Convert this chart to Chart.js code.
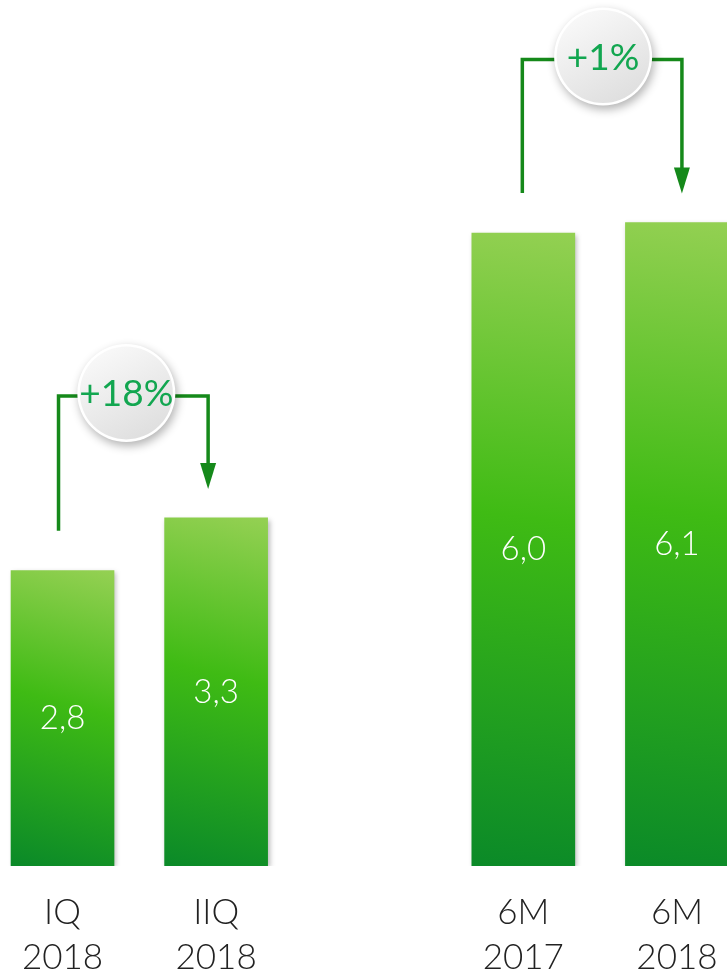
<!DOCTYPE html>
<html>
<head>
<meta charset="utf-8">
<script src="https://cdn.jsdelivr.net/npm/chart.js@4"></script>
<style>
  body { margin: 0; background: #fff; }
</style>
</head>
<body>
<canvas id="myChart" width="727" height="976"></canvas>
<script>
const categories = [["IQ", "2018"], ["IIQ", "2018"], ["6M", "2017"], ["6M", "2018"]];
const xPositions = [0, 1, 3, 4];
const values = [2.8, 3.3, 6.0, 6.1];
const valueLabels = ["2,8", "3,3", "6,0", "6,1"];
const changeLabels = ["+18%", "+1%"];
const changePairs = [[0, 1], [2, 3]];

const ctx = document.querySelector("#myChart");

function barGradient(c) {
    const chart = c.chart;
    if (!chart.chartArea) return "#3fbb14";
    const i = c.dataIndex;
    const cx = chart.scales.x.getPixelForValue(xPositions[i]);
    const top = chart.scales.y.getPixelForValue(values[i]);
    const bottom = chart.scales.y.getPixelForValue(0);
    const g = chart.ctx.createLinearGradient(cx + 40, top, cx - 40, bottom);
    g.addColorStop(0, "#93d052");
    g.addColorStop(0.45, "#3fbb14");
    g.addColorStop(1, "#0b8a28");
    return g;
}

// soft shadow on bars, values inside bars
const barExtras = {
    id: "barExtras",
    beforeDatasetsDraw(chart) {
        const c = chart.ctx;
        c.save();
        c.shadowColor = "rgba(0,0,0,0.28)";
        c.shadowBlur = 5;
        c.shadowOffsetX = 2;
        c.shadowOffsetY = 2;
    },
    afterDatasetsDraw(chart) {
        const c = chart.ctx;
        c.restore();
        const meta = chart.getDatasetMeta(0);
        c.save();
        c.fillStyle = "#ffffff";
        c.font = "300 33px Lato";
        c.textAlign = "center";
        c.textBaseline = "middle";
        meta.data.forEach((bar, i) => {
            c.fillText(valueLabels[i], bar.x, (bar.y + bar.base) / 2);
        });
        c.restore();
    }
};

// bracket arrows with the change badges
const changeBadges = {
    id: "changeBadges",
    afterDraw(chart, args, opts) {
        const c = chart.ctx;
        const meta = chart.getDatasetMeta(0);
        changePairs.forEach((pair, k) => {
            const a = meta.data[pair[0]];
            const b = meta.data[pair[1]];
            const level = Math.min(a.y, b.y) - opts.rise[k];
            const leftX = a.x + opts.leftDx[k];
            const rightX = b.x + opts.rightDx[k];
            const tipY = b.y - 29;

            c.save();
            c.strokeStyle = "#15891a";
            c.fillStyle = "#15891a";
            c.lineWidth = 3.5;
            c.lineJoin = "miter";
            c.beginPath();
            c.moveTo(leftX, a.y - 40);
            c.lineTo(leftX, level);
            c.lineTo(rightX, level);
            c.lineTo(rightX, tipY - 24);
            c.stroke();
            c.beginPath();
            c.moveTo(rightX - 8, tipY - 26);
            c.lineTo(rightX + 8, tipY - 26);
            c.lineTo(rightX, tipY);
            c.closePath();
            c.fill();

            const cx = (leftX + rightX) / 2 + opts.circleDx[k];
            const cy = level - 3;
            c.shadowColor = "rgba(0,0,0,0.3)";
            c.shadowBlur = 10;
            c.shadowOffsetX = 2;
            c.shadowOffsetY = 4;
            c.fillStyle = "#ffffff";
            c.beginPath();
            c.arc(cx, cy, 49, 0, Math.PI * 2);
            c.fill();
            c.shadowColor = "transparent";
            const g = c.createLinearGradient(cx - 25, cy - 45, cx + 25, cy + 45);
            g.addColorStop(0, "#f9f9f9");
            g.addColorStop(1, "#dedede");
            c.fillStyle = g;
            c.beginPath();
            c.arc(cx, cy, 46.5, 0, Math.PI * 2);
            c.fill();

            c.fillStyle = "#12a650";
            c.font = "37px Lato";
            c.textAlign = "center";
            c.textBaseline = "middle";
            c.fillText(changeLabels[k], cx, cy + 1);
            c.restore();
        });
    }
};

new Chart(ctx, {
    type: "bar",
    data: {
        datasets: [{
            data: xPositions.map((x, i) => ({ x: x, y: values[i] })),
            backgroundColor: barGradient,
            borderWidth: 0,
            barThickness: 103
        }]
    },
    options: {
        responsive: false,
        animation: false,
        layout: { padding: 0 },
        plugins: {
            legend: { display: false },
            tooltip: { enabled: false },
            changeBadges: {
                rise: [122, 163],
                leftDx: [-4, -1],
                rightDx: [-8, 5],
                circleDx: [-7, 1]
            }
        },
        scales: {
            x: {
                type: "linear",
                min: -0.407,
                max: 4.326,
                offset: false,
                grid: { display: false, drawTicks: false, offset: false },
                border: { display: false },
                afterBuildTicks: (axis) => {
                    axis.ticks = xPositions.map((v) => ({ value: v }));
                },
                afterFit: (axis) => {
                    axis.height = 110;
                    axis.paddingLeft = 0;
                    axis.paddingRight = 0;
                },
                ticks: {
                    padding: 24,
                    color: "#222222",
                    font: { family: "Lato", size: 35, weight: 300, lineHeight: 1.29 },
                    maxRotation: 0,
                    autoSkip: false,
                    callback: (value, index) => categories[index]
                }
            },
            y: {
                display: false,
                min: 0,
                max: 8.21
            }
        }
    },
    plugins: [barExtras, changeBadges]
});
</script>
</body>
</html>
